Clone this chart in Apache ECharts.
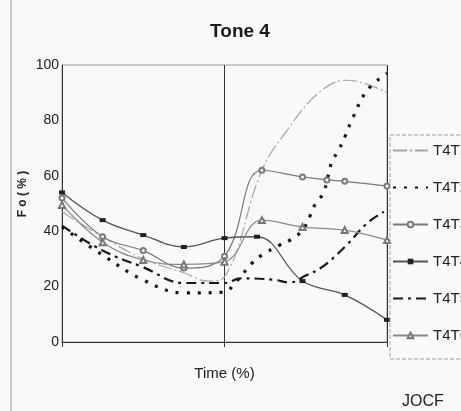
<!DOCTYPE html>
<html><head><meta charset="utf-8">
<script src="https://cdn.jsdelivr.net/npm/echarts@6/dist/echarts.min.js"></script>
<style>html,body{margin:0;padding:0;background:#f9f9f9}#c{width:461px;height:411px}</style>
</head><body><div id="c"></div>
<script>
// Data (x = time %, y = F0 %)
const seriesNames = ['T4T1','T4T2','T4T3','T4T4','T4T5','T4T6'];
const yTicks = [0,20,40,60,80,100];
const t4t1X = [0,12.5,25,37.5,45,50,61.5,69,79,87.5,94,100];
const t4t1Y = [47,38,30,25,22,23.5,62,76,90,94.5,93,90];
const t4t2X = [0,12.5,25,37.5,50,53,58.5,61.5,67,70.5,74,76.5,78,80.5,83,85,87,89.5,94,100];
const t4t2Y = [41.5,31.4,22.4,17.7,18,21,28.5,31.4,35,37,40.4,46,50,54,65,69,74,81,91,97];
const t4t3X = [0,12.5,25,37.5,50,61.5,74,81.5,87,100];
const t4t3Y = [52,38,33,26.7,31,62,59.6,58.5,58,56.3];
const t4t4X = [0,12.5,25,37.5,50,60,74,87,100];
const t4t4Y = [54,44,38.6,34.3,37.5,38,22,17,8];
const t4t5X = [0,12.5,25,37.5,50,55,65,70,75,80,87,94,99];
const t4t5Y = [42,33,27,21.3,21.3,23,22.5,21.5,24,27,34.3,43,47];
const t4t6X = [0,12.5,25,37.5,50,61.5,74,87,100];
const t4t6Y = [49.5,36,29.6,28,29,44,41.5,40.4,36.8];

const pairs = (xs, ys) => xs.map((x, i) => [x, ys[i]]);
const noMarker = ['T4T1','T4T2','T4T5'];

const chart = echarts.init(document.getElementById('c'), null, {renderer: 'canvas'});
const font = 'Liberation Sans, Arial, sans-serif';
chart.setOption({
  backgroundColor: '#f9f9f9',
  animation: false,
  title: {
    text: 'Tone 4', left: 240, top: 22, padding: 0, textAlign: 'center',
    textStyle: {fontFamily: font, fontSize: 19, fontWeight: 'bold', color: '#1a1a1a'}
  },
  grid: {left: 62, right: 74, top: 65, bottom: 69, show: true, borderColor: '#9a9a9a', borderWidth: 1, backgroundColor: 'transparent'},
  legend: {
    orient: 'vertical', left: 390, top: 135,
    padding: [8, 4, 16, 2], itemGap: 22, itemWidth: 35, itemHeight: 7,
    borderColor: '#a0a0a0', borderWidth: 1, borderType: 'dashed',
    textStyle: {fontFamily: font, fontSize: 15, color: '#222'},
    data: seriesNames.map(n => noMarker.includes(n) ? {name: n, itemStyle: {opacity: 0}} : {name: n})
  },
  xAxis: {
    type: 'value', min: 0, max: 100, interval: 50,
    name: 'Time (%)', nameLocation: 'middle', nameGap: 24,
    nameTextStyle: {fontFamily: font, fontSize: 15, color: '#1a1a1a'},
    axisLine: {show: true, lineStyle: {color: '#333', width: 1}},
    axisTick: {show: true, length: 5, lineStyle: {color: '#333'}},
    axisLabel: {show: false},
    splitLine: {show: true, lineStyle: {color: '#333', width: 1}}
  },
  yAxis: {
    type: 'value', min: 0, max: 100, interval: 20,
    axisLine: {show: true, lineStyle: {color: '#333', width: 1}},
    axisTick: {show: false},
    axisLabel: {fontFamily: font, fontSize: 14, color: '#222', margin: 3,
      formatter: v => yTicks.includes(v) ? String(v) : ''},
    splitLine: {show: false}
  },
  graphic: [
    {type: 'text', x: 23, y: 194, rotation: Math.PI / 2, style: {text: 'F o ( % )', fontFamily: font, fontSize: 12, fontWeight: 'bold', fill: '#222', align: 'center', verticalAlign: 'middle'}},
    {type: 'text', x: 402, y: 394, style: {text: 'JOCF', fontFamily: font, fontSize: 16, fill: '#222'}},
    {type: 'line', shape: {x1: 11, y1: 0, x2: 11, y2: 411}, style: {stroke: '#c8c8c8', lineWidth: 2}}
  ],
  series: [
    {name: 'T4T1', type: 'line', smooth: 0.4, showSymbol: false, symbol: 'none',
     data: pairs(t4t1X, t4t1Y), lineStyle: {color: '#a5a5a5', width: 1.2, type: [14,3,2,3]}, itemStyle: {color: '#a5a5a5'}},
    {name: 'T4T2', type: 'line', smooth: 0.4, showSymbol: false, symbol: 'none',
     data: pairs(t4t2X, t4t2Y), lineStyle: {color: '#111', width: 3.2, type: [3,8]}, itemStyle: {color: '#111'}},
    {name: 'T4T3', type: 'line', smooth: 0.4, symbol: 'emptyCircle', symbolSize: 5,
     data: pairs(t4t3X, t4t3Y), lineStyle: {color: '#7a7a7a', width: 1.2}, itemStyle: {color: '#7a7a7a', borderWidth: 1}},
    {name: 'T4T4', type: 'line', smooth: 0.4, symbol: 'rect', symbolSize: [6,4],
     data: pairs(t4t4X, t4t4Y), lineStyle: {color: '#555', width: 1.3}, itemStyle: {color: '#222'}},
    {name: 'T4T5', type: 'line', smooth: 0.4, showSymbol: false, symbol: 'none',
     data: pairs(t4t5X, t4t5Y), lineStyle: {color: '#1a1a1a', width: 2.2, type: [10,5,3,5]}, itemStyle: {color: '#1a1a1a'}},
    {name: 'T4T6', type: 'line', smooth: 0.4, symbol: 'emptyTriangle', symbolSize: 6,
     data: pairs(t4t6X, t4t6Y), lineStyle: {color: '#8a8a8a', width: 1.2}, itemStyle: {color: '#777', borderWidth: 1}}
  ]
});
</script>
</body></html>
